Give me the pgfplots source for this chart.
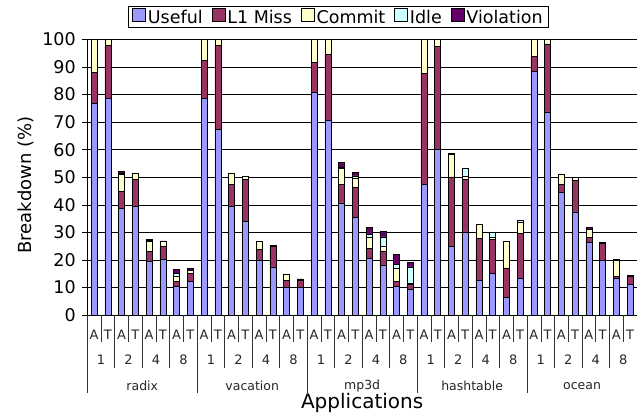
\documentclass[border=0pt]{standalone}
\usepackage{pgfplots}
\usepackage{pgfplotstable}
\pgfplotsset{compat=1.18}
\usepackage{fontspec}
\setmainfont{DejaVu Sans}
\definecolor{cuse}{HTML}{9999FF}
\definecolor{cl1}{HTML}{993366}
\definecolor{ccom}{HTML}{FFFFCC}
\definecolor{cidle}{HTML}{CCFFFF}
\definecolor{cvio}{HTML}{660066}
\pgfplotstableread{
x U L C I V
0 76.7 11.5 11.8 0 0
1 78.5 19.3 2.2 0 0
2 38.6 6.4 6.0 0.5 0.6
3 39.5 9.7 2.1 0 0
4 19.6 3.4 3.6 0.4 0.4
5 20.2 4.8 1.6 0 0.3
6 10.3 1.8 2.0 1.0 1.4
7 12.1 3.0 1.0 0 0.8
8 78.5 13.9 7.6 0 0
9 67.3 30.5 2.2 0 0
10 39.3 8.0 4.3 0 0
11 34.0 15.2 1.2 0 0
12 19.9 4.0 2.7 0 0
13 17.5 7.3 0 0 0.6
14 9.9 2.8 2.0 0 0
15 9.9 2.8 0 0 0.4
16 80.9 10.9 8.2 0 0
17 70.7 23.9 5.4 0 0
18 40.7 6.8 5.6 0.6 1.6
19 35.4 10.9 3.2 1.0 1.4
20 20.5 3.7 3.9 1.2 2.5
21 17.9 5.4 1.5 3.6 2.0
22 10.5 1.6 4.8 1.6 3.6
23 9.3 1.8 0.6 5.8 1.6
24 47.3 40.3 12.4 0 0
25 60.1 37.4 2.5 0 0
26 24.8 25.3 8.2 0 0.3
27 30.2 19.1 1.2 2.6 0
28 12.7 15.1 5.2 0 0
29 15.1 12.3 1.0 1.8 0
30 6.4 10.7 9.7 0 0
31 13.5 16.1 4.0 0.8 0
32 88.5 5.3 6.2 0 0
33 73.7 24.7 1.6 0 0
34 44.4 2.9 3.8 0 0
35 37.4 11.5 1.0 0 0
36 26.3 1.8 3.1 0 0.6
37 19.9 6.1 0 0 0.3
38 13.3 0.8 5.6 0.5 0
39 11.1 3.0 0 0 0.4
}\data
\begin{document}
\begin{tikzpicture}
\useasboundingbox (-87.3pt,-103pt) rectangle (549.7pt,315pt);
\begin{axis}[
  at={(0,0)}, anchor=south west,
  scale only axis, width=549.7pt, height=275.5pt,
  ybar stacked, bar width=6pt,
  xmin=-0.5, xmax=39.5, ymin=0, ymax=100,
  enlargelimits=false,
  ytick={0,10,...,100}, xtick=\empty,
  axis x line*=bottom, axis y line*=left,
  axis line style={-, black, line width=0.8pt},
  ymajorgrids, grid style={black, line width=0.6pt},
  tick align=outside, major tick length=5pt,
  tick style={black, line width=0.6pt},
  /pgf/number format/assume math mode=true,
  yticklabel style={font=\fontsize{17.5}{20}\selectfont, xshift=-3pt},
  clip=false,
  legend columns=5,
  legend style={at={(0.457,1.042)}, anchor=south, draw=black, line width=0.8pt,
    font=\fontsize{17.5}{20}\selectfont, inner xsep=4pt, inner ysep=1pt,
    /tikz/every even column/.append style={column sep=7pt}},
  legend image code/.code={\draw[#1, draw=black, line width=0.6pt] (0pt,-4pt) rectangle (13pt,9pt);},
  every axis plot/.append style={draw=black, line width=0.5pt},
]
\addplot[fill=cuse] table[x=x,y=U]{\data};
\addplot[fill=cl1] table[x=x,y=L]{\data};
\addplot[fill=ccom] table[x=x,y=C]{\data};
\addplot[fill=cidle] table[x=x,y=I]{\data};
\addplot[fill=cvio] table[x=x,y=V]{\data};
\legend{Useful,L1 Miss,Commit,Idle,Violation}
% separators
\pgfplotsinvokeforeach{-0.5,0.5,...,38.5}{\draw[black!80, line width=0.6pt] (axis cs:#1,0) -- ++(0pt,-27pt);}
\pgfplotsinvokeforeach{-0.5,1.5,...,37.5}{\draw[black!80, line width=0.6pt] (axis cs:#1,0) -- ++(0pt,-53pt);}
\pgfplotsinvokeforeach{-0.5,7.5,...,31.5}{\draw[black!80, line width=0.6pt] (axis cs:#1,0) -- ++(0pt,-78pt);}
% A/T labels
\pgfplotsinvokeforeach{0,2,...,38}{\node[font=\fontsize{13}{15}\selectfont, black!85] at (axis cs:#1,0) [yshift=-20pt] {A};}
\pgfplotsinvokeforeach{1,3,...,39}{\node[font=\fontsize{13}{15}\selectfont, black!85] at (axis cs:#1,0) [yshift=-20pt] {T};}
% thread labels
\pgfplotsinvokeforeach{0.5,8.5,...,32.5}{\node[font=\fontsize{13}{15}\selectfont, black!85] at (axis cs:#1,0) [yshift=-45pt] {1};}
\pgfplotsinvokeforeach{2.5,10.5,...,34.5}{\node[font=\fontsize{13}{15}\selectfont, black!85] at (axis cs:#1,0) [yshift=-45pt] {2};}
\pgfplotsinvokeforeach{4.5,12.5,...,36.5}{\node[font=\fontsize{13}{15}\selectfont, black!85] at (axis cs:#1,0) [yshift=-45pt] {4};}
\pgfplotsinvokeforeach{6.5,14.5,...,38.5}{\node[font=\fontsize{13}{15}\selectfont, black!85] at (axis cs:#1,0) [yshift=-45pt] {8};}
% application labels
\node[font=\fontsize{12.5}{15}\selectfont, black!85] at (axis cs:3.5,0) [yshift=-71pt] {radix};
\node[font=\fontsize{12.5}{15}\selectfont, black!85] at (axis cs:11.5,0) [yshift=-71pt] {vacation};
\node[font=\fontsize{12.5}{15}\selectfont, black!85] at (axis cs:19.5,0) [yshift=-71pt] {mp3d};
\node[font=\fontsize{12.5}{15}\selectfont, black!85] at (axis cs:27.5,0) [yshift=-71pt] {hashtable};
\node[font=\fontsize{12.5}{15}\selectfont, black!85] at (axis cs:35.5,0) [yshift=-71pt] {ocean};
\node[font=\fontsize{20}{24}\selectfont] at (rel axis cs:0.5,0) [yshift=-88pt] {Applications};
\node[font=\fontsize{18}{22}\selectfont, rotate=90] at (rel axis cs:-0.111,0.472) {Breakdown (\%)};
\end{axis}
\end{tikzpicture}
\end{document}
